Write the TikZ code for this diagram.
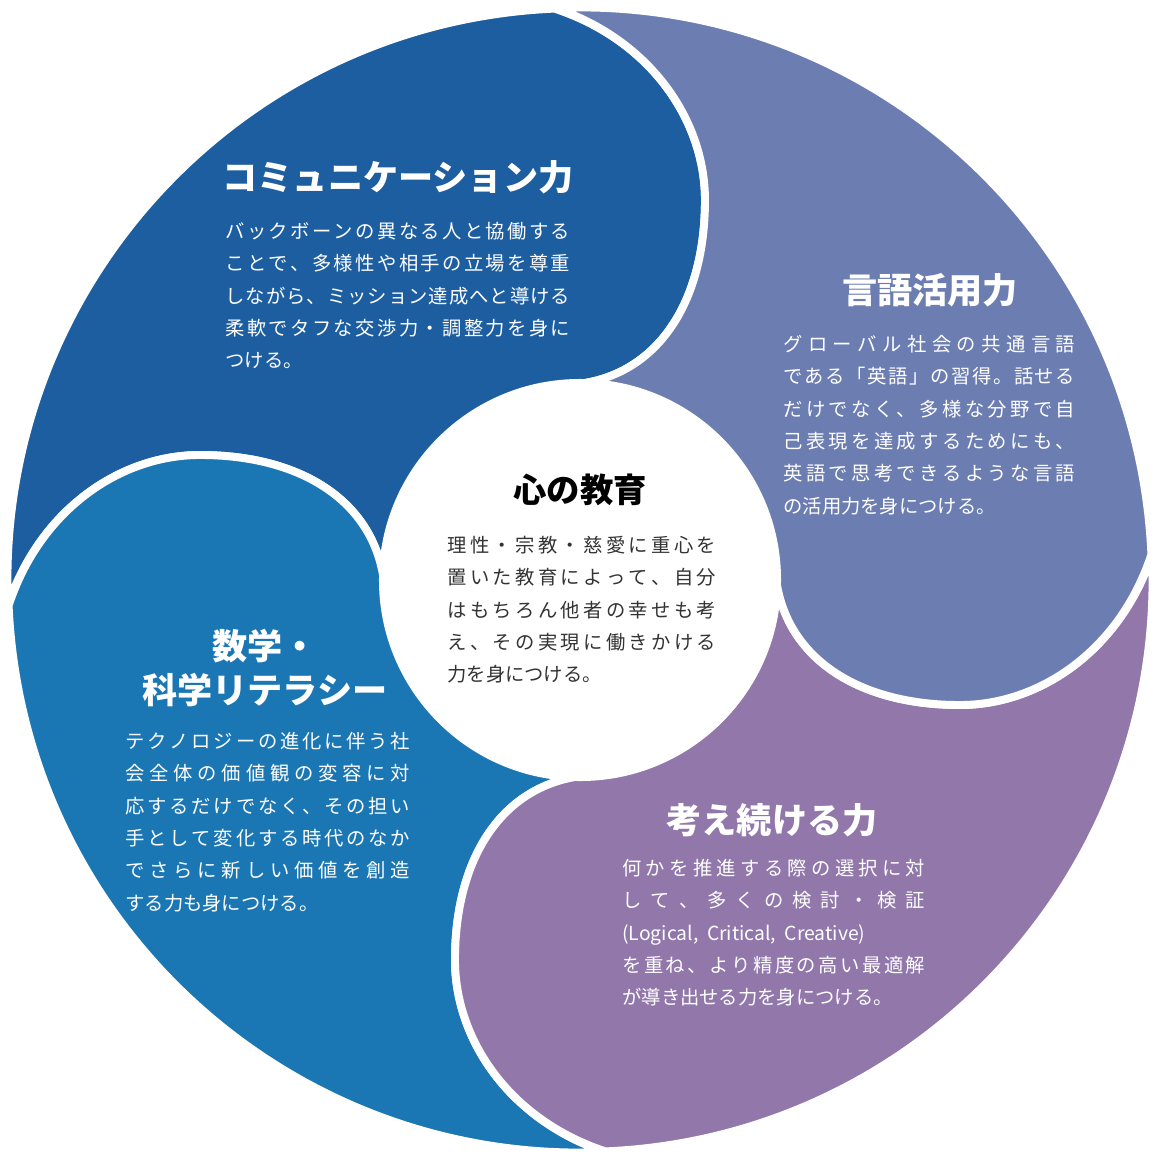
\documentclass[tikz,border=0pt]{standalone}
\usepackage{fontspec}
\setmainfont{Noto Sans CJK JP}
\definecolor{cA}{HTML}{1D5EA1}
\definecolor{cB}{HTML}{6C7DB1}
\definecolor{cC}{HTML}{9177AA}
\definecolor{cD}{HTML}{1B77B4}
\definecolor{cT}{HTML}{333333}
\def\jsp#1{\ifx\relax#1\else#1\hskip 0pt plus 1fil\expandafter\jsp\fi}
\newcommand\jline[2]{\hbox to #1{\jsp#2\relax\unskip}}
\tikzset{
  petal/.style={fill=#1,draw=white,line width=4.5pt},
  ttl/.style={text=white,font=\fontsize{20}{24}\selectfont\bfseries,align=center,inner sep=0pt},
  body/.style={text=white,font=\fontsize{11}{18.4}\selectfont,align=left,anchor=north west,inner sep=0pt},
}
\begin{document}
\begin{tikzpicture}[x=0.02cm,y=-0.02cm]
\useasboundingbox (0,0) rectangle (1160,1160);
\begin{scope}[shift={(580,580)},yscale=-1]
\foreach \r/\c in {0/cA,-90/cD,-180/cC,-270/cB}{
 \begin{scope}[rotate=\r]
  \path[petal=\c] (-572,-25) arc[start angle=182.5,end angle=92.5,radius=572]
    .. controls (70,540) and (125,460) .. (125,380)
    .. controls (125,280) and (80,210) .. (5,197)
    arc[start angle=88.5,end angle=178.5,radius=197]
    .. controls (-210,80) and (-280,125) .. (-380,125)
    .. controls (-460,125) and (-540,70) .. (-572,-25) -- cycle;
 \end{scope}}
\fill[white] (0,0) circle[radius=197];
\end{scope}
\node[ttl] (t1) at (398,177) {コミュニケーション力};
\node[body] (b1) at (225,222) {\jline{6.9cm}{バックボーンの異なる人と協働する}\\\jline{6.9cm}{ことで、多様性や相手の立場を尊重}\\\jline{6.9cm}{しながら、ミッション達成へと導ける}\\\jline{6.9cm}{柔軟でタフな交渉力・調整力を身に}\\つける。};
\node[ttl] (t2) at (930,290) {言語活用力};
\node[body] (b2) at (783,335) {\jline{5.84cm}{グローバル社会の共通言語}\\\jline{5.84cm}{である「英語」の習得。話せる}\\\jline{5.84cm}{だけでなく、多様な分野で自}\\\jline{5.84cm}{己表現を達成するためにも、}\\\jline{5.84cm}{英語で思考できるような言語}\\の活用力を身につける。};
\node[ttl,text=black,font=\fontsize{19}{22}\selectfont\bfseries] (t0) at (580,490) {心の教育};
\node[body,text=cT] (b0) at (447,536) {\jline{5.38cm}{理性・宗教・慈愛に重心を}\\\jline{5.38cm}{置いた教育によって、自分}\\\jline{5.38cm}{はもちろん他者の幸せも考}\\\jline{5.38cm}{え、その実現に働きかける}\\力を身につける。};
\node[ttl,font=\fontsize{20}{25.5}\selectfont\bfseries] (t3) at (265,668) {数学・\\科学リテラシー};
\node[body] (b3) at (125,732) {\jline{5.7cm}{テクノロジーの進化に伴う社}\\\jline{5.7cm}{会全体の価値観の変容に対}\\\jline{5.7cm}{応するだけでなく、その担い}\\\jline{5.7cm}{手として変化する時代のなか}\\\jline{5.7cm}{でさらに新しい価値を創造}\\する力も身につける。};
\node[ttl] (t4) at (772,820) {考え続ける力};
\node[body] (b4) at (622,859) {\jline{6.06cm}{何かを推進する際の選択に対}\\\jline{6.06cm}{して、多くの検討・検証}\\\hbox to 6.06cm{(Logical,\ \ Critical,\ \ Creative)\hfil}\\\jline{6.06cm}{を重ね、より精度の高い最適解}\\が導き出せる力を身につける。};
\end{tikzpicture}
\end{document}
